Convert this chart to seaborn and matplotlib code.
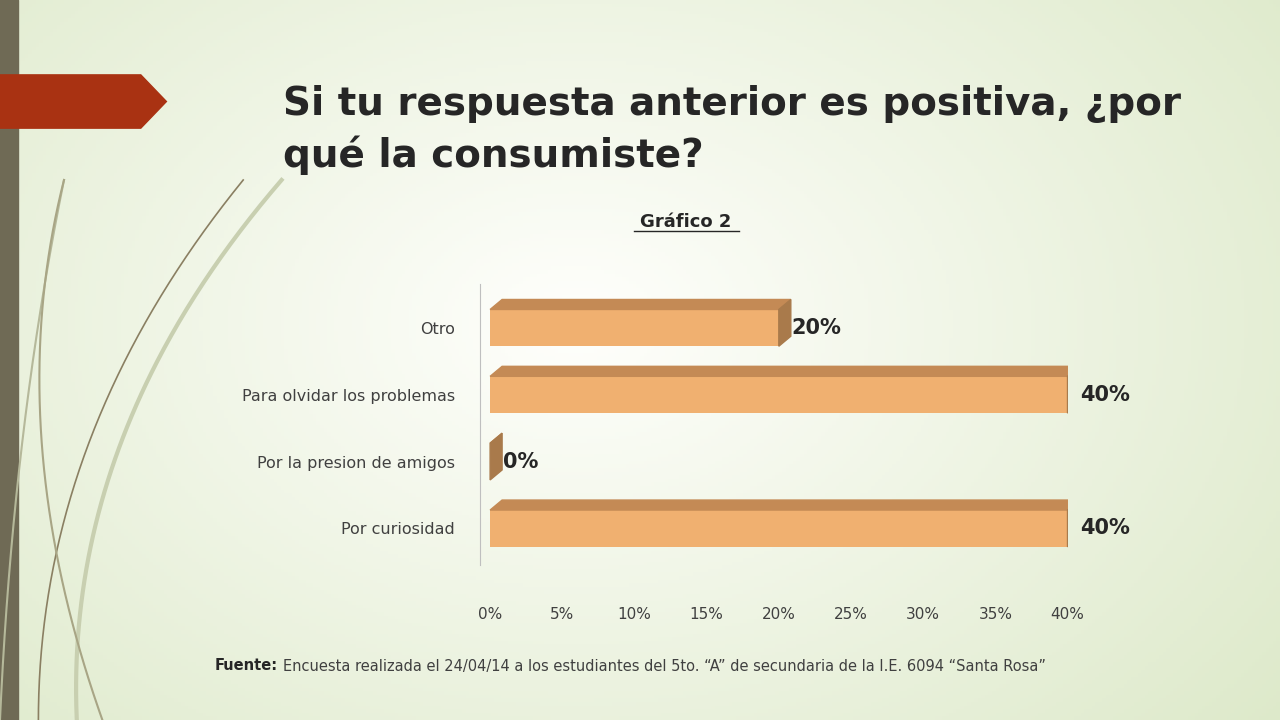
import numpy as np
import pandas as pd
import seaborn as sns
import matplotlib.pyplot as plt
from matplotlib.patches import Polygon

categories = ["Otro", "Para olvidar los problemas", "Por la presion de amigos", "Por curiosidad"]
values = [20, 40, 0, 40]
ticks = [0, 5, 10, 15, 20, 25, 30, 35, 40]

df = pd.DataFrame({"motivo": categories, "pct": values})

fig = plt.figure(figsize=(12.8, 7.2), dpi=100)

# background gradient
bg = fig.add_axes([0, 0, 1, 1], zorder=-10)
yy, xx = np.mgrid[0:1:200j, 0:1:360j]
r = np.sqrt((xx - 0.45) ** 2 + ((yy - 0.45) * 0.8) ** 2)
g = np.clip(r / 0.75, 0, 1)
c0 = np.array([1.0, 1.0, 0.99]); c1 = np.array([0.86, 0.91, 0.78])
img = c0 + (c1 - c0) * g[..., None]
bg.imshow(img, extent=[0, 1, 0, 1], aspect="auto")
# decorative strokes
t = np.linspace(0, 1, 200)
for x0, x1, cx, col, lw in [(0.05, 0.0, 0.01, "#b5b89a", 1.5), (0.19, 0.03, 0.03, "#8a7f62", 1.2),
                           (0.22, 0.06, 0.05, "#c8cfb0", 3), (0.05, 0.08, 0.0, "#a8a585", 1.5)]:
    px = (1 - t) ** 2 * x0 + 2 * (1 - t) * t * cx + t ** 2 * x1
    py = (1 - t) ** 2 * 0.75 + 2 * (1 - t) * t * 0.4 + t ** 2 * 0.0
    bg.plot(px, py, color=col, lw=lw)
bg.fill_between([0, 0.014], 0, 1, color="#6f6a55")
bg.add_patch(Polygon([[0, 0.896], [0.11, 0.896], [0.13, 0.859], [0.11, 0.822], [0, 0.822]],
                     closed=True, color="#a93212"))
bg.set_xlim(0, 1); bg.set_ylim(0, 1); bg.axis("off")

fig.text(0.221, 0.82, "Si tu respuesta anterior es positiva, ¿por\nqué la consumiste?",
         fontsize=28, fontweight="bold", color="#262626", va="center", linespacing=1.4)
fig.text(0.536, 0.692, "Gráfico 2", fontsize=13, fontweight="bold", ha="center", va="center",
         color="#262626")
fig.add_artist(plt.Line2D([0.495, 0.577], [0.679, 0.679], color="#262626", lw=1))
fig.text(0.168, 0.075, "Fuente:", fontsize=10.5, fontweight="bold", color="#262626", va="center")
fig.text(0.221, 0.075, "Encuesta realizada el 24/04/14 a los estudiantes del 5to. \u201cA\u201d de secundaria de la I.E. 6094 \u201cSanta Rosa\u201d",
         fontsize=10.5, color="#404040", va="center")

ax = fig.add_axes([0.375, 0.215, 0.459, 0.39])
ax.patch.set_alpha(0)
sns.barplot(data=df, y="motivo", x="pct", order=categories, color="#f0b070",
            width=0.55, saturation=1, ax=ax, orient="h", zorder=3)
ax.set_xlim(-0.7, 40)
ax.set_ylim(3.55, -0.65)

dxp, dyp = 12, 10  # depth in pixels
for i, v in enumerate(values):
    y0, y1 = i - 0.275, i + 0.275
    p1 = ax.transData.transform([[0, y0], [v, y0]])
    pts = np.vstack([p1, p1[::-1] + [dxp, dyp]])
    ax.add_patch(Polygon(pts, closed=True, transform=None, color="#c48a55", zorder=4))
    p2 = ax.transData.transform([[v, y0], [v, y1]])
    pts = np.vstack([p2, p2[::-1] + [dxp, dyp]])
    ax.add_patch(Polygon(pts, closed=True, transform=None, color="#a97a4b", zorder=4))
    ax.text(v + 0.9, i, f"{v}%", fontsize=15, fontweight="bold", color="#262626",
            va="center", ha="left", zorder=5)

ax.set_xticks(ticks)
ax.set_xticklabels([f"{t}%" for t in ticks], fontsize=11, color="#404040")
ax.tick_params(axis="y", labelsize=11.5, labelcolor="#404040", length=0, pad=18)
ax.tick_params(axis="x", length=0, pad=30)
ax.set_xlabel(""); ax.set_ylabel("")
for s in ["top", "right", "bottom"]:
    ax.spines[s].set_visible(False)
ax.spines["left"].set_color("#bfbfbf")

fig.savefig("out.png", dpi=100)
